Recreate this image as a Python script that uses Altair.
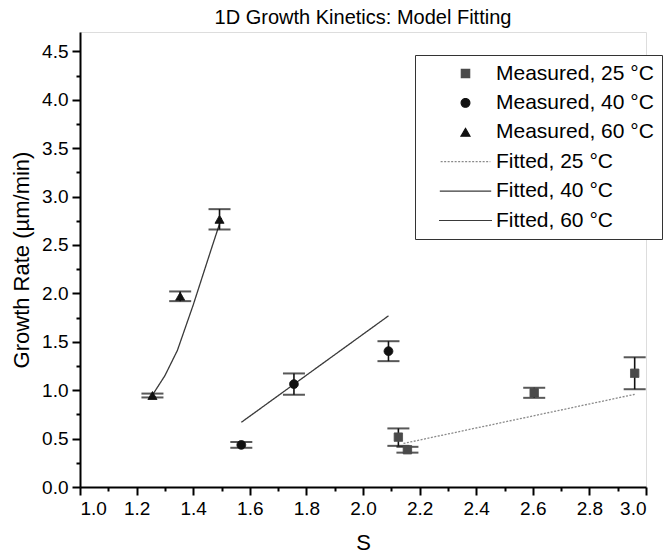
import altair as alt
import pandas as pd

FONT = "Liberation Sans"

# legend entries / series names
series_names = [
    "Measured, 25 °C", "Measured, 40 °C", "Measured, 60 °C",
    "Fitted, 25 °C", "Fitted, 40 °C", "Fitted, 60 °C",
]

# measured growth rates (µm/min) with error half-widths
s25 = [2.125, 2.157, 2.605, 2.96]
rate25 = [0.515, 0.385, 0.973, 1.175]
err25 = [0.09, 0.03, 0.052, 0.165]

s40 = [1.57, 1.756, 2.09]
rate40 = [0.435, 1.063, 1.403]
err40 = [0.03, 0.11, 0.103]

s60 = [1.256, 1.354, 1.493]
rate60 = [0.945, 1.97, 2.765]
err60 = [0.02, 0.05, 0.105]

# model curves
fit25_s = [2.143, 2.96]
fit25_rate = [0.45, 0.957]
fit40_s = [1.57, 2.09]
fit40_rate = [0.668, 1.768]
fit60_s = [1.256, 1.30, 1.344, 1.40, 1.463, 1.50]
fit60_rate = [0.95, 1.15, 1.41, 1.88, 2.45, 2.78]

x_major = [1.0, 1.2, 1.4, 1.6, 1.8, 2.0, 2.2, 2.4, 2.6, 2.8, 3.0]
x_minor = [1.1, 1.3, 1.5, 1.7, 1.9, 2.1, 2.3, 2.5, 2.7, 2.9]
y_major = [0.0, 0.5, 1.0, 1.5, 2.0, 2.5, 3.0, 3.5, 4.0, 4.5]
y_minor = [0.25, 0.75, 1.25, 1.75, 2.25, 2.75, 3.25, 3.75, 4.25]

measured = pd.concat([
    pd.DataFrame({"s": s25, "rate": rate25, "err": err25, "series": series_names[0]}),
    pd.DataFrame({"s": s40, "rate": rate40, "err": err40, "series": series_names[1]}),
    pd.DataFrame({"s": s60, "rate": rate60, "err": err60, "series": series_names[2]}),
], ignore_index=True)
measured["lo"] = measured["rate"] - measured["err"]
measured["hi"] = measured["rate"] + measured["err"]

fitted = pd.concat([
    pd.DataFrame({"s": fit25_s, "rate": fit25_rate, "series": series_names[3]}),
    pd.DataFrame({"s": fit40_s, "rate": fit40_rate, "series": series_names[4]}),
    pd.DataFrame({"s": fit60_s, "rate": fit60_rate, "series": series_names[5]}),
], ignore_index=True)

line_path = "M-5.3,0H5.3"
shape_scale = alt.Scale(domain=series_names,
                        range=["square", "circle", "triangle-up", line_path, line_path, line_path])
size_scale = alt.Scale(domain=series_names, range=[70, 100, 170, 100, 100, 100])
fill_scale = alt.Scale(domain=series_names,
                       range=["#4a4a4a", "#111111", "#111111", "#ffffff", "#ffffff", "#ffffff"])
stroke_scale = alt.Scale(domain=series_names,
                         range=["#4a4a4a", "#111111", "#111111", "#8a8a8a", "#3a3a3a", "#3a3a3a"])
dash_scale = alt.Scale(domain=series_names,
                       range=[[1, 0], [1, 0], [1, 0], [2, 1.5], [1, 0], [1, 0]])

x_scale = alt.Scale(domain=[1.0, 3.0], nice=False, zero=False)
y_scale = alt.Scale(domain=[0.0, 4.7], nice=False)

axis_common = dict(
    grid=False, domainColor="black", domainWidth=2, tickColor="black", tickWidth=2,
    tickSize=8, labelFont=FONT, labelFontSize=19, labelColor="black",
    titleFont=FONT, titleFontSize=22, titleFontWeight="normal", titleColor="black",
)

x_axis = alt.Axis(values=x_major, format=".1f", title="S", labelPadding=4,
                  titlePadding=14, orient="bottom", **axis_common)
y_axis = alt.Axis(values=y_major, format=".1f", title="Growth Rate (µm/min)",
                  labelPadding=4, titlePadding=8, orient="left", **axis_common)

legend = alt.Legend(
    title=None, orient="none", legendX=335, legendY=23,
    fillColor="white", strokeColor="#333333", padding=8,
    labelFont=FONT, labelFontSize=21, labelColor="black", labelLimit=400,
    labelOffset=20, symbolOffset=32, rowPadding=7.4,
    symbolStrokeWidth=1.2,
)

fit_lines = alt.Chart(fitted).mark_line(strokeWidth=1.3).encode(
    x=alt.X("s:Q", scale=x_scale, axis=x_axis),
    y=alt.Y("rate:Q", scale=y_scale, axis=y_axis),
    detail="series:N",
    stroke=alt.Stroke("series:N", scale=stroke_scale, legend=legend),
    strokeDash=alt.StrokeDash("series:N", scale=dash_scale, legend=legend),
)

no_x = alt.X("s:Q", axis=None)
err_rules = alt.Chart(measured).mark_rule(color="#111111", strokeWidth=1.6).encode(
    x=no_x, y=alt.Y("lo:Q", axis=None), y2="hi:Q",
)
err_caps_lo = alt.Chart(measured).mark_tick(
    color="#111111", orient="horizontal", size=22, thickness=2
).encode(x=no_x, y=alt.Y("lo:Q", axis=None))
err_caps_hi = alt.Chart(measured).mark_tick(
    color="#111111", orient="horizontal", size=22, thickness=2
).encode(x=no_x, y=alt.Y("hi:Q", axis=None))

points = alt.Chart(measured).mark_point(filled=True, opacity=1, strokeWidth=1).encode(
    x=no_x,
    y=alt.Y("rate:Q", axis=None),
    shape=alt.Shape("series:N", scale=shape_scale, legend=legend),
    size=alt.Size("series:N", scale=size_scale, legend=legend),
    fill=alt.Fill("series:N", scale=fill_scale, legend=legend),
    stroke=alt.Stroke("series:N", scale=stroke_scale, legend=legend),
    strokeDash=alt.StrokeDash("series:N", scale=dash_scale, legend=legend),
)

minor_ticks = alt.Chart(measured).mark_point(opacity=0).encode(
    x=alt.X("s:Q", scale=x_scale, axis=alt.Axis(
        values=x_minor, labels=False, title=None, domain=False, grid=False,
        tickSize=4, tickWidth=2, tickColor="black", orient="bottom")),
    y=alt.Y("rate:Q", scale=y_scale, axis=alt.Axis(
        values=y_minor, labels=False, title=None, domain=False, grid=False,
        tickSize=4, tickWidth=2, tickColor="black", orient="left")),
)

chart = alt.layer(
    fit_lines, err_rules, err_caps_lo, err_caps_hi, points, minor_ticks
).resolve_axis(
    x="independent", y="independent"
).properties(
    width=566,
    height=455,
    padding={"left": 80, "top": 32, "right": 18, "bottom": 72},
    autosize="none",
    title=alt.TitleParams(
        "1D Growth Kinetics: Model Fitting", font=FONT, fontSize=20,
        fontWeight="normal", color="black", anchor="middle", offset=4,
    ),
).configure_view(stroke=None).configure(background="white")

chart.save("out.html", embed_options={"renderer": "svg", "actions": False})
